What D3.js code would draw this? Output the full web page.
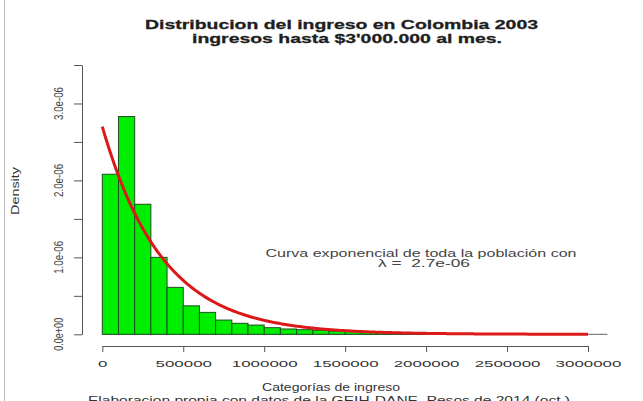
<!DOCTYPE html>
<html>
<head>
<meta charset="utf-8">
<script src="https://cdn.jsdelivr.net/npm/d3@7/dist/d3.min.js"></script>
<style>
  html, body { margin: 0; padding: 0; background: #fff; }
  svg { display: block; font-family: "Liberation Sans", Arial, Helvetica, sans-serif; }
</style>
</head>
<body>
<svg id="chart" width="643" height="401"></svg>
<script>
// Histogram of monthly income (bins of 100 000 pesos), density scale
const binStarts = [0, 100000, 200000, 300000, 400000, 500000, 600000, 700000, 800000, 900000,
                   1000000, 1100000, 1200000, 1300000, 1400000, 1500000, 1600000, 1700000,
                   1800000, 1900000, 2000000, 2100000];
const binWidth = 100000;
const densities = [2.08e-6, 2.83e-6, 1.69e-6, 1.00e-6, 0.61e-6, 0.37e-6, 0.285e-6, 0.185e-6,
                   0.143e-6, 0.120e-6, 0.086e-6, 0.069e-6, 0.060e-6, 0.052e-6, 0.043e-6,
                   0.036e-6, 0.030e-6, 0.025e-6, 0.021e-6, 0.017e-6, 0.013e-6, 0.010e-6];
const incomeMax = 3120000;

// Exponential fit for the whole population
const lambda = 2.7e-6;

const xTickValues = [0, 500000, 1000000, 1500000, 2000000, 2500000, 3000000];
const xTickLabels = ["0", "500000", "1000000", "1500000", "2000000", "2500000", "3000000"];
const yTickValues = [0, 0.5e-6, 1e-6, 1.5e-6, 2e-6, 2.5e-6, 3e-6, 3.5e-6];
const yTickLabels = ["0.0e+00", "", "1.0e-06", "", "2.0e-06", "", "3.0e-06", ""];

const titleLines = ["Distribucion del ingreso en Colombia 2003", "ingresos hasta $3'000.000 al mes."];
const xTitle = "Categorías de ingreso";
const caption = "Elaboracion propia con datos de la GEIH-DANE, Pesos de 2014 (oct.)";
const yTitle = "Density";
const noteLines = ["Curva exponencial de toda la población con", "\u03BB =  2.7e-06"];

const svg = d3.select("#chart");

const x = d3.scaleLinear().domain([0, 3000000]).range([102.3, 588]);
const y = d3.scaleLinear().domain([0, 3.5e-6]).range([334.3, 65]);

// thin frame line on the left edge
svg.append("line").attr("x1", 4.5).attr("x2", 4.5).attr("y1", 0).attr("y2", 401)
  .attr("stroke", "#b8b8b8").attr("stroke-width", 1);

// baseline under the empty bins
svg.append("line")
  .attr("x1", x(0)).attr("x2", x(incomeMax))
  .attr("y1", y(0)).attr("y2", y(0))
  .attr("stroke", "#666").attr("stroke-width", 1);

// histogram bars
svg.append("g").selectAll("rect")
  .data(binStarts.map((b, i) => ({ x0: b, x1: b + binWidth, d: densities[i] })))
  .join("rect")
  .attr("x", d => x(d.x0))
  .attr("y", d => y(d.d))
  .attr("width", d => x(d.x1) - x(d.x0))
  .attr("height", d => y(0) - y(d.d))
  .attr("fill", "#00ee00")
  .attr("stroke", "#1f4f1f")
  .attr("stroke-width", 1);

// exponential density curve
const curvePts = d3.range(0, 3000001, 10000).map(v => [v, lambda * Math.exp(-lambda * v)]);
svg.append("path")
  .datum(curvePts)
  .attr("fill", "none")
  .attr("stroke", "#dc1818")
  .attr("stroke-width", 3)
  .attr("stroke-linejoin", "round")
  .attr("d", d3.line().x(d => x(d[0])).y(d => y(d[1])));

// x axis
const xAxis = svg.append("g").attr("transform", "translate(0,346)")
  .call(d3.axisBottom(x).tickValues(xTickValues).tickSize(6).tickSizeOuter(0)
    .tickFormat((d, i) => xTickLabels[i]));
xAxis.select(".domain").attr("stroke", "#555");
xAxis.selectAll(".tick line").attr("stroke", "#555");
xAxis.selectAll(".tick text")
  .attr("y", 21).attr("dy", 0)
  .attr("font-size", 9.5)
  .attr("font-family", "Liberation Sans, Arial, sans-serif")
  .attr("fill", "#333")
  .attr("textLength", (d, i) => xTickLabels[i].length * 9.4)
  .attr("lengthAdjust", "spacingAndGlyphs");

// y axis
const yAxis = svg.append("g").attr("transform", "translate(82,0)")
  .call(d3.axisLeft(y).tickValues(yTickValues).tickSize(8).tickSizeOuter(0)
    .tickFormat((d, i) => yTickLabels[i]));
yAxis.select(".domain").attr("stroke", "#555");
yAxis.selectAll(".tick line").attr("stroke", "#555");
yAxis.selectAll(".tick text").remove();
svg.append("g").selectAll("text")
  .data(yTickValues.map((v, i) => ({ v, t: yTickLabels[i] })).filter(d => d.t))
  .join("text")
  .attr("transform", d => `translate(63,${y(d.v)}) scale(1.4,1) rotate(-90)`)
  .attr("text-anchor", "middle")
  .attr("font-size", 9.7)
  .attr("fill", "#444")
  .attr("textLength", 33)
  .attr("lengthAdjust", "spacingAndGlyphs")
  .text(d => d.t);

// y title
svg.append("text")
  .attr("transform", "translate(18.5,191) scale(1.15,1) rotate(-90)")
  .attr("text-anchor", "middle")
  .attr("font-size", 9.5)
  .attr("fill", "#333")
  .attr("textLength", 48)
  .attr("lengthAdjust", "spacingAndGlyphs")
  .text(yTitle);

// title
const titleSpec = [
  { t: titleLines[0], cx: 341.5, yb: 29, w: 393 },
  { t: titleLines[1], cx: 347, yb: 43, w: 310 }
];
svg.append("g").selectAll("text").data(titleSpec).join("text")
  .attr("x", d => d.cx).attr("y", d => d.yb)
  .attr("text-anchor", "middle")
  .attr("font-size", 13.5)
  .attr("font-weight", "bold")
  .attr("fill", "#1e1e1e")
  .attr("stroke", "#1e1e1e")
  .attr("stroke-width", 0.3)
  .attr("textLength", d => d.w)
  .attr("lengthAdjust", "spacingAndGlyphs")
  .text(d => d.t);

// annotation about the fitted curve
const noteSpec = [
  { t: noteLines[0], cx: 421, yb: 256.5, w: 311 },
  { t: noteLines[1], cx: 424, yb: 267, w: 92 }
];
svg.append("g").selectAll("text").data(noteSpec).join("text")
  .attr("x", d => d.cx).attr("y", d => d.yb)
  .attr("text-anchor", "middle")
  .attr("font-size", 10)
  .attr("fill", "#444")
  .attr("textLength", d => d.w)
  .attr("lengthAdjust", "spacingAndGlyphs")
  .style("white-space", "pre")
  .text(d => d.t);

// x title and source caption
svg.append("text")
  .attr("x", 331).attr("y", 390.5)
  .attr("text-anchor", "middle")
  .attr("font-size", 11)
  .attr("fill", "#333")
  .attr("textLength", 138)
  .attr("lengthAdjust", "spacingAndGlyphs")
  .text(xTitle);
svg.append("text")
  .attr("x", 329).attr("y", 403.5)
  .attr("text-anchor", "middle")
  .attr("font-size", 11)
  .attr("fill", "#333")
  .attr("textLength", 482)
  .attr("lengthAdjust", "spacingAndGlyphs")
  .text(caption);
</script>
</body>
</html>
